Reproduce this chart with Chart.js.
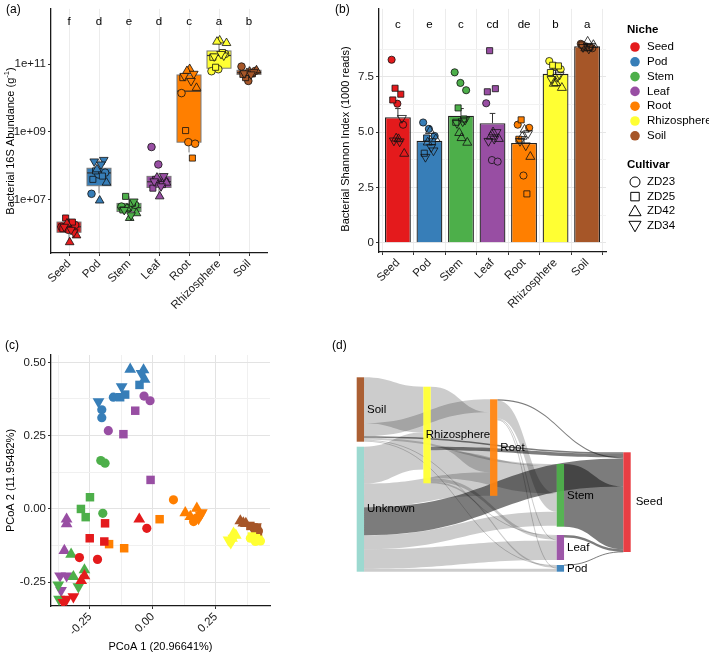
<!DOCTYPE html>
<html>
<head>
<meta charset="utf-8">
<title>Bacterial niches</title>
<script src="https://cdn.jsdelivr.net/npm/chart.js"></script>
<style>
  body { margin: 0; background: #fff; }
  #wrap { position: relative; width: 709px; height: 654px; overflow: hidden; }
  canvas { position: absolute; }
  .tag { position: absolute; font: 12px 'Liberation Sans', Arial, sans-serif; color: #000; }
</style>
</head>
<body>
<div id="wrap">
  <canvas id="chartA" width="280" height="320" style="left:0;top:0"></canvas>
  <canvas id="chartB" width="429" height="320" style="left:280px;top:0"></canvas>
  <canvas id="chartC" width="290" height="334" style="left:0;top:320px"></canvas>
  <canvas id="chartD" width="419" height="334" style="left:290px;top:320px"></canvas>
  <div class="tag" style="left:6px;top:2px">(a)</div>
  <div class="tag" style="left:335px;top:2px">(b)</div>
  <div class="tag" style="left:5px;top:338px">(c)</div>
  <div class="tag" style="left:332px;top:338px">(d)</div>
</div>

<script>
  // ---- data ----
  const niches = ['Seed', 'Pod', 'Stem', 'Leaf', 'Root', 'Rhizosphere', 'Soil'];
  const nicheColors = ['#e41a1c', '#377eb8', '#4daf4a', '#984ea3', '#ff7f00', '#ffff33', '#a65628'];
  const cultivars = ['ZD23', 'ZD25', 'ZD42', 'ZD34'];
  // every niche has 12 samples, 3 per cultivar in this order
  const sampleCultivar = [0, 0, 0, 1, 1, 1, 2, 2, 2, 3, 3, 3];

  // (a) 16S abundance per gram
  const abundance = [
    [1.6e6, 1.3e6, 1.8e6, 2.9e6, 2.2e6, 1.4e6, 5.6e5, 8.9e5, 2.0e6, 1.1e6, 1.6e6, 1.3e6],
    [1.5e7, 5.6e7, 6.3e7, 7.1e7, 5.0e7, 4.0e7, 9.5e6, 3.2e7, 7.9e7, 1.5e8, 1.35e8, 1.1e8],
    [6.3e6, 5.6e6, 7.1e6, 1.26e7, 7.9e6, 5.0e6, 2.9e6, 4.0e6, 5.6e6, 8.9e6, 5.0e6, 3.5e6],
    [3.6e8, 1.1e8, 3.5e7, 4.0e7, 2.8e7, 2.2e7, 1.26e7, 3.2e7, 4.5e7, 5.0e7, 3.5e7, 2.5e7],
    [1.4e10, 5.0e8, 4.5e8, 1.1e9, 1.7e8, 4.0e10, 7.2e10, 2.0e10, 6.3e10, 5.2e10, 4.5e10, 3.2e10],
    [6.2e10, 7.1e10, 2.0e11, 8.1e10, 2.2e11, 1.6e11, 5.0e11, 4.2e11, 4.6e11, 1.8e11, 1.7e11, 2.0e11],
    [8.5e10, 3.2e10, 6.3e10, 4.0e10, 5.2e10, 5.0e10, 6.0e10, 6.6e10, 5.5e10, 5.8e10, 5.4e10, 5.0e10]
  ];
  const boxLow    = [5.6e5, 1.55e7, 2.9e6, 1.5e7, 2.5e8, 6.2e10, 3.2e10];
  const boxQ1     = [1.1e6, 2.6e7, 4.5e6, 2.3e7, 5.0e8, 7.6e10, 5.0e10];
  const boxMedian = [1.6e6, 6.2e7, 5.9e6, 3.4e7, 1.6e10, 1.8e11, 5.6e10];
  const boxQ3     = [2.2e6, 8.5e7, 7.8e6, 4.9e7, 4.8e10, 2.45e11, 6.6e10];
  const boxHigh   = [2.9e6, 1.5e8, 1.26e7, 6.2e7, 7.2e10, 5.0e11, 8.5e10];
  const lettersA = ['f', 'd', 'e', 'd', 'c', 'a', 'b'];
  const aTickValues = [1e7, 1e9, 1e11];
  const aTickLabels = ['1e+07', '1e+09', '1e+11'];

  // (b) Shannon index
  const shannon = [
    [8.28, 6.29, 5.34, 6.99, 6.72, 6.46, 4.69, 4.03, 4.72, 5.64, 4.62, 4.58],
    [5.44, 5.15, 4.83, 4.74, 4.57, 4.05, 5.06, 4.69, 4.54, 4.17, 3.88, 4.32],
    [7.71, 7.23, 6.90, 6.10, 5.60, 5.45, 4.74, 4.53, 4.97, 5.56, 5.41, 5.49],
    [6.31, 3.74, 3.67, 8.69, 6.97, 6.83, 5.00, 4.70, 4.80, 5.00, 4.60, 4.70],
    [5.34, 3.04, 5.20, 5.56, 2.21, 4.68, 5.12, 3.89, 4.80, 4.95, 4.60, 4.40],
    [8.22, 7.98, 7.85, 8.03, 8.00, 7.70, 7.23, 7.01, 7.20, 7.60, 7.40, 7.50],
    [9.00, 8.85, 8.80, 8.90, 8.85, 8.95, 9.10, 8.95, 8.80, 8.90, 8.85, 8.78]
  ];
  const shannonMean = [5.68, 4.61, 5.75, 5.41, 4.51, 7.64, 8.89];
  const shannonSE   = [0.39, 0.22, 0.32, 0.44, 0.29, 0.16, 0.07];
  const lettersB = ['c', 'e', 'c', 'cd', 'de', 'b', 'a'];
  const bTickValues = [0, 2.5, 5, 7.5];
  const bTickLabels = ['0', '2.5', '5.0', '7.5'];
  const bMinorValues = [1.25, 3.75, 6.25, 8.75];

  // (c) PCoA coordinates
  const pcoaX = [
    [-0.024, -0.292, -0.220, -0.190, -0.251, -0.193, -0.054, -0.285, -0.272, -0.316, -0.343, -0.356],
    [-0.157, -0.203, -0.203, -0.053, -0.130, -0.110, -0.090, -0.037, -0.033, -0.124, -0.216, -0.045],
    [-0.207, -0.190, -0.199, -0.250, -0.286, -0.267, -0.325, -0.272, -0.316, -0.376, -0.296, -0.373],
    [-0.035, -0.011, -0.177, -0.070, -0.117, -0.009, -0.343, -0.343, -0.352, -0.369, -0.343, -0.365],
    [0.082, 0.162, 0.175, 0.027, -0.174, -0.114, 0.129, 0.175, 0.149, 0.195, 0.182, 0.190],
    [0.388, 0.408, 0.428, 0.394, 0.410, 0.420, 0.321, 0.330, 0.315, 0.301, 0.320, 0.310],
    [0.410, 0.420, 0.405, 0.388, 0.414, 0.418, 0.348, 0.360, 0.370, 0.395, 0.400, 0.410]
  ];
  const pcoaY = [
    [-0.066, -0.166, -0.172, -0.049, -0.100, -0.111, -0.035, -0.244, -0.228, -0.299, -0.308, -0.319],
    [0.381, 0.338, 0.311, 0.423, 0.381, 0.390, 0.476, 0.474, 0.442, 0.417, 0.366, 0.462],
    [0.165, 0.156, -0.015, 0.040, 0.000, -0.028, -0.155, -0.208, -0.231, -0.259, -0.265, -0.308],
    [0.385, 0.369, 0.267, 0.335, 0.255, 0.099, -0.035, -0.051, -0.142, -0.228, -0.228, -0.278],
    [0.031, -0.043, -0.030, -0.035, -0.120, -0.134, -0.013, 0.002, -0.026, -0.013, -0.032, -0.020],
    [-0.100, -0.111, -0.109, -0.094, -0.100, -0.105, -0.083, -0.090, -0.100, -0.106, -0.100, -0.115],
    [-0.070, -0.075, -0.065, -0.058, -0.066, -0.083, -0.041, -0.048, -0.050, -0.060, -0.070, -0.060]
  ];
  const cXTickValues = [-0.25, 0, 0.25];
  const cXTickLabels = ['-0.25', '0.00', '0.25'];
  const cXMinorValues = [-0.375, -0.125, 0.125, 0.375];
  const cYTickValues = [-0.25, 0, 0.25, 0.5];
  const cYTickLabels = ['-0.25', '0.00', '0.25', '0.50'];
  const cYMinorValues = [-0.125, 0.125, 0.375];

  // (d) source tracking flows
  const sankeyNodes = ['Soil', 'Unknown', 'Rhizosphere', 'Root', 'Stem', 'Leaf', 'Pod', 'Seed'];
  const sankeyColors = ['#a65628', '#97d7cd', '#ffff33', '#ff8410', '#4daf4a', '#984ea3', '#377eb8', '#e8343a'];
  const linkSource = [0, 0, 0, 0, 0, 0, 1, 1, 1, 1, 1, 1, 2, 2, 2, 2, 2, 3, 3, 3, 3, 4, 5, 6];
  const linkTarget = [2, 3, 7, 4, 5, 6, 2, 3, 7, 4, 5, 6, 3, 7, 4, 5, 6, 7, 4, 5, 6, 7, 7, 7];
  const linkValue  = [45.9, 13, 1.5, 2, 1, 1, 37, 23.5, 28, 14, 19.5, 3, 60, 3.5, 27.7, 3.5, 1.9, 1.2, 18, 1, 0.8, 62.7, 2.5, 0.3];
  // node placement (layout, not data)
  const sankeyColumn = [0, 0, 1, 2, 3, 3, 3, 4];
  const sankeyTop = [0, 69.4, 9.4, 22, 86.7, 157.7, 187.7, 75];
  const sankeyLabelDx = [3, 3, -5, 3, 3, 3, 3, 5];

  // ---- helpers ----
  const FONT = "'Liberation Sans', Arial, sans-serif";
  Chart.defaults.font.family = FONT;
  Chart.defaults.font.size = 11.5;
  Chart.defaults.color = '#1a1a1a';
  Chart.defaults.animation = false;
  Chart.defaults.responsive = false;
  Chart.defaults.plugins.legend.display = false;
  Chart.defaults.plugins.tooltip.enabled = false;

  const shapeStyle = ['circle', 'rect', 'triangle', 'triangle'];
  const shapeRotation = [0, 0, 0, 180];
  const jitter = (j, spread) => (((j * 5) % 12) / 11 - 0.5) * spread;
  const cult = c => sampleCultivar[c.dataIndex];
  const axisBorder = { display: true, color: '#1a1a1a', width: 1.3 };

  const yTitle = {
    id: 'yTitle',
    afterDraw(chart, args, o) {
      const ctx = chart.ctx;
      ctx.save();
      ctx.translate(o.x, o.y);
      ctx.rotate(-Math.PI / 2);
      ctx.fillStyle = '#000';
      ctx.textBaseline = 'middle';
      ctx.font = '11px ' + FONT;
      const w1 = ctx.measureText(o.text).width;
      ctx.font = '7.5px ' + FONT;
      const ws = o.sup ? ctx.measureText(o.sup).width : 0;
      ctx.font = '11px ' + FONT;
      const w2 = o.tail ? ctx.measureText(o.tail).width : 0;
      let x = -(w1 + ws + w2) / 2;
      ctx.textAlign = 'left';
      ctx.fillText(o.text, x, 0);
      if (o.sup) {
        ctx.font = '7.5px ' + FONT;
        ctx.fillText(o.sup, x + w1, -4);
        ctx.font = '11px ' + FONT;
        ctx.fillText(o.tail, x + w1 + ws, 0);
      }
      ctx.restore();
    }
  };

  const letterRow = {
    id: 'letterRow',
    afterDraw(chart, args, o) {
      const { ctx, scales: { x, y } } = chart;
      ctx.save();
      ctx.fillStyle = '#000';
      ctx.font = '11.5px ' + FONT;
      ctx.textAlign = 'center';
      ctx.textBaseline = 'middle';
      o.letters.forEach((l, i) => ctx.fillText(l, x.getPixelForValue(i), y.getPixelForValue(o.at)));
      ctx.restore();
    }
  };

  // ---- (a) boxplots on log scale ----
  const boxPlugin = {
    id: 'boxes',
    beforeDatasetsDraw(chart) {
      const { ctx, scales: { x, y } } = chart;
      ctx.save();
      niches.forEach((n, i) => {
        const cx = x.getPixelForValue(i);
        const hw = x.getPixelForValue(i + 0.4) - cx;
        const lo = y.getPixelForValue(boxLow[i]), q1 = y.getPixelForValue(boxQ1[i]);
        const md = y.getPixelForValue(boxMedian[i]), q3 = y.getPixelForValue(boxQ3[i]);
        const hi = y.getPixelForValue(boxHigh[i]);
        ctx.strokeStyle = '#7a7a7a';
        ctx.lineWidth = 1;
        ctx.beginPath();
        ctx.moveTo(cx, lo); ctx.lineTo(cx, q1);
        ctx.moveTo(cx, q3); ctx.lineTo(cx, hi);
        ctx.stroke();
        ctx.fillStyle = nicheColors[i];
        ctx.fillRect(cx - hw, q3, 2 * hw, q1 - q3);
        ctx.strokeRect(cx - hw, q3, 2 * hw, q1 - q3);
        ctx.strokeStyle = '#333';
        ctx.lineWidth = 1.2;
        ctx.beginPath();
        ctx.moveTo(cx - hw, md); ctx.lineTo(cx + hw, md);
        ctx.stroke();
      });
      ctx.restore();
    }
  };

  new Chart(document.getElementById('chartA'), {
    type: 'scatter',
    data: {
      datasets: niches.map((n, i) => ({
        data: abundance[i].map((v, j) => ({ x: i + jitter(j, 0.5), y: v })),
        pointBackgroundColor: nicheColors[i],
        pointBorderColor: '#111',
        pointBorderWidth: 0.8,
        pointStyle: c => shapeStyle[cult(c)],
        pointRotation: c => shapeRotation[cult(c)],
        pointRadius: c => [3.8, 4.3, 5, 5][cult(c)]
      }))
    },
    options: {
      layout: { autoPadding: false, padding: { left: 0, right: 13, top: 0, bottom: 0 } },
      scales: {
        x: {
          type: 'linear', min: -0.6, max: 6.6,
          afterBuildTicks: s => { s.ticks = niches.map((n, i) => ({ value: i })); },
          afterFit: s => { s.height = 67; },
          ticks: { callback: v => niches[v], minRotation: 45, maxRotation: 45, autoSkip: false, padding: 1, color: '#1a1a1a' },
          grid: { color: '#ececec', tickColor: '#333', tickLength: 3 },
          border: axisBorder
        },
        y: {
          type: 'logarithmic', min: Math.pow(10, 5.43), max: Math.pow(10, 12.63),
          afterBuildTicks: s => { s.ticks = aTickValues.map(v => ({ value: v })); },
          afterFit: s => { s.width = 51; },
          ticks: { callback: v => aTickLabels[aTickValues.indexOf(v)], padding: 2, color: '#1a1a1a' },
          grid: { color: 'rgba(0,0,0,0)', tickColor: '#333', tickLength: 3 },
          border: axisBorder
        }
      },
      plugins: {
        yTitle: { x: 11, y: 141, text: 'Bacterial 16S Abundance (g', sup: '-1', tail: ')' },
        letterRow: { letters: lettersA, at: Math.pow(10, 12.25) }
      }
    },
    plugins: [boxPlugin, letterRow, yTitle]
  });

  // ---- (b) bars with error bars and points ----
  const errorBars = {
    id: 'errorBars',
    afterDatasetDraw(chart, args) {
      if (args.meta.type !== 'bar') return;
      const { ctx, scales: { x, y } } = chart;
      ctx.save();
      ctx.strokeStyle = '#333';
      ctx.lineWidth = 1;
      niches.forEach((n, i) => {
        const cx = x.getPixelForValue(i);
        const cw = x.getPixelForValue(i + 0.09) - cx;
        const top = y.getPixelForValue(shannonMean[i] + shannonSE[i]);
        const mid = y.getPixelForValue(shannonMean[i]);
        ctx.beginPath();
        ctx.moveTo(cx, mid); ctx.lineTo(cx, top);
        ctx.moveTo(cx - cw, top); ctx.lineTo(cx + cw, top);
        ctx.stroke();
      });
      ctx.restore();
    }
  };

  const nicheLegend = {
    id: 'nicheLegend',
    afterDraw(chart) {
      const ctx = chart.ctx;
      const x0 = 347;
      ctx.save();
      ctx.textAlign = 'left';
      ctx.textBaseline = 'middle';
      ctx.fillStyle = '#000';
      ctx.font = 'bold 11.5px ' + FONT;
      ctx.fillText('Niche', x0, 30);
      niches.forEach((n, k) => {
        const yy = 47 + k * 14.8;
        ctx.beginPath();
        ctx.arc(x0 + 8, yy, 4.8, 0, 2 * Math.PI);
        ctx.fillStyle = nicheColors[k];
        ctx.fill();
        ctx.fillStyle = '#000';
        ctx.font = '11.5px ' + FONT;
        ctx.fillText(n, x0 + 20, yy);
      });
      ctx.font = 'bold 11.5px ' + FONT;
      ctx.fillText('Cultivar', x0, 165);
      cultivars.forEach((c, k) => {
        const yy = 182 + k * 14.6;
        ctx.fillStyle = 'rgba(0,0,0,0)';
        ctx.strokeStyle = '#000';
        ctx.lineWidth = 1;
        Chart.helpers.drawPoint(ctx, { pointStyle: shapeStyle[k], rotation: shapeRotation[k], radius: [5, 6, 7, 7][k], borderWidth: 1 }, x0 + 8, yy + (k === 2 ? 1 : k === 3 ? -1 : 0));
        ctx.fillStyle = '#000';
        ctx.font = '11.5px ' + FONT;
        ctx.fillText(c, x0 + 20, yy);
      });
      ctx.restore();
    }
  };

  const isMajorB = v => bTickValues.indexOf(v) >= 0;
  new Chart(document.getElementById('chartB'), {
    type: 'bar',
    data: {
      datasets: [{
        type: 'bar',
        order: 1,
        data: niches.map((n, i) => ({ x: i, y: shannonMean[i] })),
        backgroundColor: nicheColors,
        borderColor: '#222',
        borderWidth: 1.3,
        barPercentage: 0.82,
        categoryPercentage: 1
      }].concat(niches.map((n, i) => ({
        type: 'scatter',
        order: 0,
        data: shannon[i].map((v, j) => ({ x: i + jitter(j, 0.4), y: v })),
        pointBackgroundColor: c => cult(c) < 2 ? nicheColors[i] : 'rgba(0,0,0,0)',
        pointBorderColor: '#111',
        pointBorderWidth: 0.8,
        pointStyle: c => shapeStyle[cult(c)],
        pointRotation: c => shapeRotation[cult(c)],
        pointRadius: c => [3.6, 4.3, 5.2, 5.2][cult(c)]
      })))
    },
    options: {
      layout: { autoPadding: false, padding: { left: 0, right: 103, top: 0, bottom: 0 } },
      scales: {
        x: {
          type: 'linear', min: -0.6, max: 6.6, offset: false,
          afterBuildTicks: s => { s.ticks = niches.map((n, i) => ({ value: i })); },
          afterFit: s => { s.height = 68; },
          ticks: { callback: v => niches[v], minRotation: 45, maxRotation: 45, autoSkip: false, padding: 1, color: '#1a1a1a' },
          grid: { color: '#ececec', tickColor: '#333', tickLength: 3 },
          border: axisBorder
        },
        y: {
          type: 'linear', min: -0.42, max: 10.58,
          afterBuildTicks: s => { s.ticks = bTickValues.concat(bMinorValues).sort((a, b) => a - b).map(v => ({ value: v })); },
          afterFit: s => { s.width = 99; },
          ticks: { callback: v => isMajorB(v) ? bTickLabels[bTickValues.indexOf(v)] : '', padding: 2, color: '#1a1a1a' },
          grid: {
            color: c => c.tick && isMajorB(c.tick.value) ? '#e6e6e6' : '#f2f2f2',
            tickColor: c => c.tick && isMajorB(c.tick.value) ? '#333' : 'rgba(0,0,0,0)',
            tickLength: 3
          },
          border: axisBorder
        }
      },
      plugins: {
        yTitle: { x: 66, y: 139, text: 'Bacterial Shannon Index (1000 reads)' },
        letterRow: { letters: lettersB, at: 9.85 }
      }
    },
    plugins: [errorBars, letterRow, yTitle, nicheLegend]
  });

  // ---- (c) PCoA ----
  const isMajorCX = v => cXTickValues.indexOf(v) >= 0;
  const isMajorCY = v => cYTickValues.indexOf(v) >= 0;
  new Chart(document.getElementById('chartC'), {
    type: 'scatter',
    data: {
      datasets: niches.map((n, i) => ({
        data: pcoaX[i].map((v, j) => ({ x: v, y: pcoaY[i][j] })),
        pointBackgroundColor: nicheColors[i],
        pointBorderWidth: 0,
        pointStyle: c => shapeStyle[cult(c)],
        pointRotation: c => shapeRotation[cult(c)],
        pointRadius: c => [4.6, 6, 6.8, 6.8][cult(c)]
      }))
    },
    options: {
      layout: { autoPadding: false, padding: { left: 0, right: 20, top: 35, bottom: 0 } },
      scales: {
        x: {
          type: 'linear', min: -0.405, max: 0.466,
          afterBuildTicks: s => { s.ticks = cXTickValues.concat(cXMinorValues).sort((a, b) => a - b).map(v => ({ value: v })); },
          afterFit: s => { s.height = 48; },
          ticks: { callback: v => isMajorCX(v) ? cXTickLabels[cXTickValues.indexOf(v)] : '', minRotation: 45, maxRotation: 45, autoSkip: false, padding: 1, color: '#1a1a1a' },
          grid: {
            color: c => c.tick && isMajorCX(c.tick.value) ? '#e3e3e3' : '#f0f0f0',
            tickColor: c => c.tick && isMajorCX(c.tick.value) ? '#333' : 'rgba(0,0,0,0)',
            tickLength: 3
          },
          border: axisBorder,
          title: { display: true, text: 'PCoA 1 (20.96641%)', color: '#000', font: { size: 11 }, padding: 0 }
        },
        y: {
          type: 'linear', min: -0.331, max: 0.525,
          afterBuildTicks: s => { s.ticks = cYTickValues.concat(cYMinorValues).sort((a, b) => a - b).map(v => ({ value: v })); },
          afterFit: s => { s.width = 51; },
          ticks: { callback: v => isMajorCY(v) ? cYTickLabels[cYTickValues.indexOf(v)] : '', padding: 2, color: '#1a1a1a' },
          grid: {
            color: c => c.tick && isMajorCY(c.tick.value) ? '#e3e3e3' : '#f0f0f0',
            tickColor: c => c.tick && isMajorCY(c.tick.value) ? '#333' : 'rgba(0,0,0,0)',
            tickLength: 3
          },
          border: axisBorder,
          title: { display: true, text: 'PCoA 2 (11.95482%)', color: '#000', font: { size: 11 }, padding: { top: 4, bottom: 0 } }
        }
      }
    }
  });

  // ---- (d) sankey drawn on hidden linear scales ----
  const NODE_W = 0.11;
  const sankeyPlugin = {
    id: 'sankey',
    afterDatasetsDraw(chart) {
      const { ctx, scales: { x, y } } = chart;
      const n = sankeyNodes.length;
      const inSum = new Array(n).fill(0), outSum = new Array(n).fill(0);
      linkValue.forEach((v, k) => { outSum[linkSource[k]] += v; inSum[linkTarget[k]] += v; });
      const nodeValue = inSum.map((v, i) => Math.max(v, outSum[i]));

      const idx = linkValue.map((v, k) => k);
      const sOff = new Array(n).fill(0), tOff = new Array(n).fill(0);
      const sy = [], ty = [];
      idx.slice().sort((a, b) => sankeyTop[linkTarget[a]] - sankeyTop[linkTarget[b]]).forEach(k => {
        const s = linkSource[k];
        sy[k] = sankeyTop[s] + sOff[s]; sOff[s] += linkValue[k];
      });
      idx.slice().sort((a, b) => sankeyTop[linkSource[a]] - sankeyTop[linkSource[b]]).forEach(k => {
        const t = linkTarget[k];
        ty[k] = sankeyTop[t] + tOff[t]; tOff[t] += linkValue[k];
      });

      ctx.save();
      idx.forEach(k => {
        const s = linkSource[k], t = linkTarget[k], v = linkValue[k];
        const x0 = x.getPixelForValue(sankeyColumn[s] + NODE_W), x1 = x.getPixelForValue(sankeyColumn[t]);
        const xm = (x0 + x1) / 2;
        const a0 = y.getPixelForValue(sy[k]), a1 = y.getPixelForValue(sy[k] + v);
        const b0 = y.getPixelForValue(ty[k]), b1 = y.getPixelForValue(ty[k] + v);
        const col = sankeyNodes[t] === 'Seed' ? 'rgba(30,30,30,0.58)' : 'rgba(0,0,0,0.2)';
        if (a1 - a0 < 1.2) {
          const am = (a0 + a1) / 2, bm = (b0 + b1) / 2;
          ctx.strokeStyle = col;
          ctx.lineWidth = 1;
          ctx.beginPath();
          ctx.moveTo(x0, am); ctx.bezierCurveTo(xm, am, xm, bm, x1, bm);
          ctx.stroke();
        } else {
          ctx.fillStyle = col;
          ctx.beginPath();
          ctx.moveTo(x0, a0);
          ctx.bezierCurveTo(xm, a0, xm, b0, x1, b0);
          ctx.lineTo(x1, b1);
          ctx.bezierCurveTo(xm, b1, xm, a1, x0, a1);
          ctx.closePath();
          ctx.fill();
        }
      });

      sankeyNodes.forEach((name, i) => {
        const l = x.getPixelForValue(sankeyColumn[i]), r = x.getPixelForValue(sankeyColumn[i] + NODE_W);
        const t = y.getPixelForValue(sankeyTop[i]), b = y.getPixelForValue(sankeyTop[i] + nodeValue[i]);
        ctx.fillStyle = sankeyColors[i];
        ctx.globalAlpha = 0.95;
        ctx.fillRect(l, t, r - l, b - t);
        ctx.globalAlpha = 1;
        ctx.fillStyle = '#000';
        ctx.font = '11.5px ' + FONT;
        ctx.textAlign = 'left';
        ctx.textBaseline = 'middle';
        ctx.fillText(name, r + sankeyLabelDx[i], (t + b) / 2);
      });
      ctx.restore();
    }
  };

  new Chart(document.getElementById('chartD'), {
    type: 'scatter',
    data: { datasets: [{ data: [] }] },
    options: {
      layout: { autoPadding: false, padding: { left: 66.7, right: 78.3, top: 57.3, bottom: 82.3 } },
      scales: {
        x: { type: 'linear', min: 0, max: 4 + NODE_W, display: false },
        y: { type: 'linear', min: 0, max: 194.4, reverse: true, display: false }
      }
    },
    plugins: [sankeyPlugin]
  });
</script>
</body>
</html>
